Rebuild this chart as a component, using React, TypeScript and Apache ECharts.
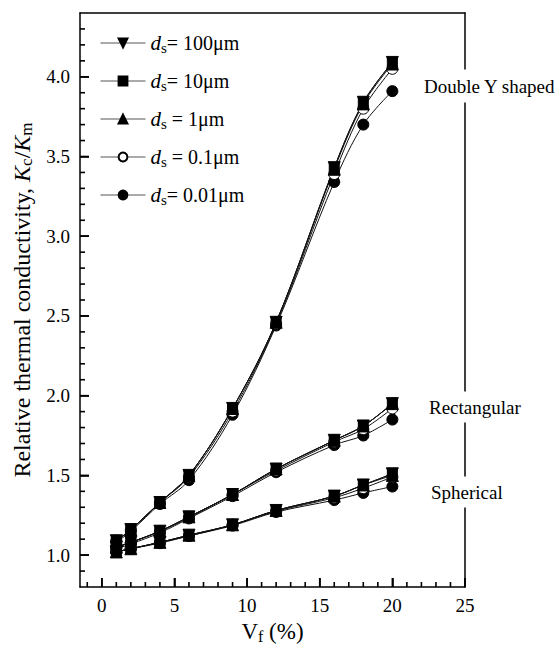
import React, { useEffect, useRef } from 'react';
import * as echarts from 'echarts';

// Volume fraction of filler (%)
const vf = [1, 2, 4, 6, 9, 12, 16, 18, 20];

// Double Y shaped fillers
const dy100 = [1.09, 1.16, 1.33, 1.50, 1.92, 2.46, 3.43, 3.84, 4.09];
const dy10 = [1.09, 1.16, 1.33, 1.50, 1.92, 2.46, 3.43, 3.84, 4.09];
const dy1 = [1.09, 1.16, 1.33, 1.50, 1.92, 2.46, 3.42, 3.83, 4.08];
const dy01 = [1.09, 1.16, 1.33, 1.49, 1.90, 2.45, 3.39, 3.80, 4.05];
const dy001 = [1.08, 1.15, 1.32, 1.47, 1.88, 2.44, 3.34, 3.70, 3.91];

// Rectangular fillers
const re100 = [1.05, 1.08, 1.15, 1.24, 1.38, 1.54, 1.72, 1.81, 1.95];
const re10 = [1.05, 1.08, 1.15, 1.24, 1.38, 1.54, 1.72, 1.81, 1.95];
const re1 = [1.05, 1.08, 1.15, 1.24, 1.38, 1.54, 1.72, 1.81, 1.95];
const re01 = [1.05, 1.08, 1.15, 1.235, 1.38, 1.53, 1.71, 1.79, 1.92];
const re001 = [1.04, 1.07, 1.14, 1.23, 1.37, 1.52, 1.69, 1.75, 1.85];

// Spherical fillers
const sp100 = [1.02, 1.04, 1.08, 1.125, 1.19, 1.28, 1.37, 1.44, 1.51];
const sp10 = [1.02, 1.04, 1.08, 1.125, 1.19, 1.28, 1.37, 1.44, 1.51];
const sp1 = [1.02, 1.04, 1.08, 1.125, 1.19, 1.28, 1.37, 1.44, 1.50];
const sp01 = [1.02, 1.04, 1.08, 1.12, 1.19, 1.275, 1.36, 1.42, 1.49];
const sp001 = [1.02, 1.04, 1.075, 1.12, 1.185, 1.27, 1.345, 1.39, 1.43];

// Legend entries (series names) and their label text after "d_s"
const seriesNames = ['ds= 100μm', 'ds= 10μm', 'ds = 1μm', 'ds = 0.1μm', 'ds= 0.01μm'];
const legendTails = ['= 100μm', '= 10μm', ' = 1μm', ' = 0.1μm', '= 0.01μm'];

// Axis ranges and ticks
const xRange = [-1.5, 25];
const yRange = [0.8, 4.4];
const xMajor = [0, 5, 10, 15, 20, 25];
const xMinor = [-1, 1, 2, 3, 4, 6, 7, 8, 9, 11, 12, 13, 14, 16, 17, 18, 19, 21, 22, 23, 24];
const yMajor = [1.0, 1.5, 2.0, 2.5, 3.0, 3.5, 4.0];
const yMinor = [0.9, 1.1, 1.2, 1.3, 1.4, 1.6, 1.7, 1.8, 1.9, 2.1, 2.2, 2.3, 2.4, 2.6, 2.7, 2.8, 2.9, 3.1, 3.2, 3.3, 3.4, 3.6, 3.7, 3.8, 3.9, 4.1, 4.2, 4.3];

// Shape annotations
const shapeLabels = ['Double Y shaped', 'Rectangular', 'Spherical'];

const FONT = '"Liberation Serif", "Times New Roman", serif';

const markerStyles = [
  { symbol: 'triangle', symbolSize: 12, symbolRotate: 180, fill: '#000' },
  { symbol: 'rect', symbolSize: 10, symbolRotate: 0, fill: '#000' },
  { symbol: 'triangle', symbolSize: 12, symbolRotate: 0, fill: '#000' },
  { symbol: 'circle', symbolSize: 11, symbolRotate: 0, fill: '#fff' },
  { symbol: 'circle', symbolSize: 11, symbolRotate: 0, fill: '#000' },
];

function makeSeries(idx: number, values: number[]) {
  const m = markerStyles[idx];
  return {
    type: 'line',
    name: seriesNames[idx],
    data: vf.map((x, i) => [x, values[i]]),
    smooth: 0.35,
    symbol: m.symbol,
    symbolSize: m.symbolSize,
    symbolRotate: m.symbolRotate,
    showAllSymbol: true,
    lineStyle: { color: '#111', width: 1 },
    itemStyle: { color: m.fill, borderColor: '#000', borderWidth: 1, opacity: 1 },
    emphasis: { disabled: true },
  };
}

// inward tick marks as thin filled rectangles placed through the axis scales
function tickMarks(points: number[][], vertical: boolean, len: number) {
  return {
    type: 'scatter',
    silent: true,
    clip: false,
    z: 6,
    data: points,
    symbol: 'rect',
    symbolSize: vertical ? [1.6, len] : [len, 1.6],
    symbolOffset: vertical ? [0, -len / 2] : [len / 2, 0],
    itemStyle: { color: '#000', opacity: 1 },
    emphasis: { disabled: true },
  };
}

const rich = {
  n: { fontFamily: FONT, fontSize: 20, color: '#000' },
  i: { fontFamily: FONT, fontSize: 21, fontStyle: 'italic', color: '#000' },
  sub: { fontFamily: FONT, fontSize: 15, color: '#000', padding: [9, 0, 0, 0] },
};

const yNameRich = {
  n: { fontFamily: FONT, fontSize: 24, color: '#000' },
  i: { fontFamily: FONT, fontSize: 24, fontStyle: 'italic', color: '#000' },
  sub: { fontFamily: FONT, fontSize: 17, color: '#000', padding: [10, 0, 0, 0] },
};

const xNameRich = {
  n: { fontFamily: FONT, fontSize: 23, color: '#000' },
  sub: { fontFamily: FONT, fontSize: 16, color: '#000', padding: [10, 0, 0, 0] },
};

const axisLineStyle = { color: '#000', width: 1.5 };

export default function App() {
  const ref = useRef<HTMLDivElement>(null);
  useEffect(() => {
    if (!ref.current) return;
    const chart = echarts.init(ref.current, undefined, { renderer: 'svg' });
    const groups = [
      [dy100, dy10, dy1, dy01, dy001],
      [re100, re10, re1, re01, re001],
      [sp100, sp10, sp1, sp01, sp001],
    ];
    const series: any[] = [];
    groups.forEach((g) => {
      for (let k = 4; k >= 0; k--) series.push(makeSeries(k, g[k]));
    });
    series.push(tickMarks(yMinor.map((v) => [xRange[0], v]), false, 5));
    series.push(tickMarks(yMajor.map((v) => [xRange[0], v]), false, 9));
    series.push(tickMarks(xMinor.map((v) => [v, yRange[0]]), true, 5));
    series.push(tickMarks(xMajor.map((v) => [v, yRange[0]]), true, 9));

    const option: any = {
      animation: false,
      grid: { left: 80, right: 93, top: 13, bottom: 64 },
      legend: {
        data: seriesNames,
        orient: 'vertical',
        left: 100,
        top: 32,
        padding: 0,
        itemWidth: 45,
        itemHeight: 11,
        itemGap: 15,
        itemTextGap: 5,
        selectedMode: false,
        lineStyle: { width: 1, color: '#555' },
        formatter: (name: string) => {
          const idx = seriesNames.indexOf(name);
          return '{i|d}{sub|s}{n|' + legendTails[idx] + '}';
        },
        textStyle: { fontFamily: FONT, fontSize: 20, color: '#000', lineHeight: 22, rich },
      },
      xAxis: [
        {
          type: 'value',
          min: xRange[0],
          max: xRange[1],
          position: 'bottom',
          splitLine: { show: false },
          axisLine: { show: true, onZero: false, lineStyle: axisLineStyle },
          axisTick: { show: true, inside: true, length: 9, customValues: xMajor, lineStyle: { color: '#000', width: 1.6 } },
          axisLabel: { customValues: xMajor, fontFamily: FONT, fontSize: 19, color: '#000', margin: 9 },
          name: '{n|V}{sub|f}{n| (%)}',
          nameLocation: 'middle',
          nameGap: 27,
          nameTextStyle: { fontFamily: FONT, fontSize: 23, color: '#000', rich: xNameRich },
        },
        {
          type: 'value',
          min: xRange[0],
          max: xRange[1],
          position: 'top',
          splitLine: { show: false },
          axisLine: { show: true, onZero: false, lineStyle: axisLineStyle },
          axisTick: { show: false },
          axisLabel: { show: false },
        },
      ],
      yAxis: [
        {
          type: 'value',
          min: yRange[0],
          max: yRange[1],
          position: 'left',
          splitLine: { show: false },
          axisLine: { show: true, onZero: false, lineStyle: axisLineStyle },
          axisTick: { show: true, inside: true, length: 9, customValues: yMajor, lineStyle: { color: '#000', width: 1.6 } },
          axisLabel: {
            customValues: yMajor,
            formatter: (v: number) => v.toFixed(1),
            fontFamily: FONT,
            fontSize: 19,
            color: '#000',
            margin: 10,
          },
          name: '{n|Relative thermal conductivity, }{i|K}{sub|c}{n|/}{i|K}{sub|m}',
          nameLocation: 'middle',
          nameGap: 28,
          nameTextStyle: { fontFamily: FONT, fontSize: 24, color: '#000', rich: yNameRich },
        },
        {
          type: 'value',
          min: yRange[0],
          max: yRange[1],
          position: 'right',
          splitLine: { show: false },
          axisLine: { show: true, onZero: false, lineStyle: axisLineStyle },
          axisTick: { show: false },
          axisLabel: { show: false },
        },
      ],
      series,
      graphic: [
        {
          type: 'text',
          x: 423,
          y: 86,
          z: 100,
          style: {
            text: shapeLabels[0],
            font: '19px ' + FONT,
            fill: '#000',
            verticalAlign: 'middle',
            align: 'left',
            backgroundColor: '#fff',
            padding: [7, 1],
          },
        },
        {
          type: 'text',
          x: 428,
          y: 407,
          z: 100,
          style: {
            text: shapeLabels[1],
            font: '19px ' + FONT,
            fill: '#000',
            verticalAlign: 'middle',
            align: 'left',
            backgroundColor: '#fff',
            padding: [6, 1],
          },
        },
        {
          type: 'text',
          x: 430,
          y: 492,
          z: 100,
          style: {
            text: shapeLabels[2],
            font: '19px ' + FONT,
            fill: '#000',
            verticalAlign: 'middle',
            align: 'left',
            backgroundColor: '#fff',
            padding: [6, 1],
          },
        },
      ],
    };
    chart.setOption(option);
    return () => chart.dispose();
  }, []);
  return (
    <div
      ref={ref}
      style={{ position: 'absolute', left: 0, top: 0, width: 558, height: 651 }}
    />
  );
}
